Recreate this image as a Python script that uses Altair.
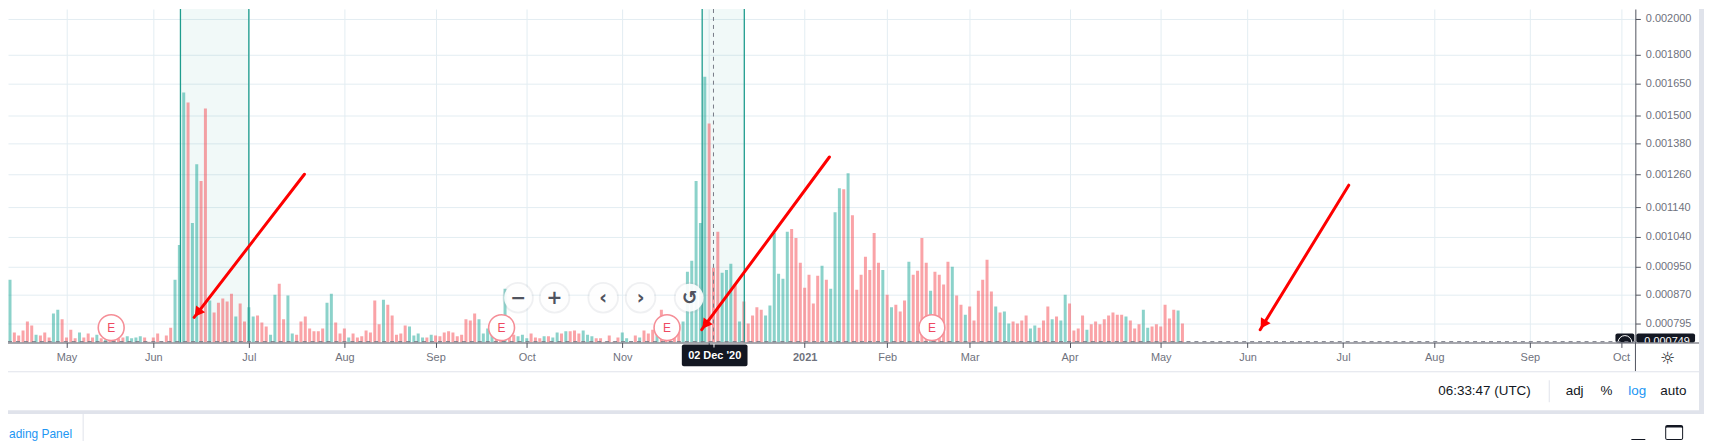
import altair as alt
import pandas as pd

# bar tops, in millionths of the quote (0.000795 -> 795)
tops_a = [759,798,913,773,766,778,800,790,768,766,773,761,821,831,806,761,780,759,773,761,771,761,768,
          759,756,759,756,759,761,764,759,761,764,761,751,761,771,751,766,785,913,1016,1608,1561,1087,1299,1235,1533,
          855,824,849,860,852,873,813,847,800,837,813,816,798,788,768,870,901,806,868,771,768,800,813,783,776,776,783,
          849,873,798,771,783,761,771,761,764,778,773,855,793,857,844,816,768,771,790,788,766,771,761,761]
tops_b = [768,766,764,773,776,773,764,768,806,803,821,806,771,783,778,768,773,887,766,768,764,768,759,771,761,759,
          764,764,761,773,771,776,776,778,771,778,768,764,759,759,751,766,751,761,773,759,751,766,761,778,771,780,768,
          831,768,768,768,793,800,936,968,1235,1087,1686,1466,947,1057,933,941,959,899,800,852,795,816,837,831,816,842,
          1053,930,916,1057,1067,1037,962,890,927,847,924,953,913,887,1123,1209,1205,1264,1113]
tops_c = [884,927,980,941,1053,962,941,870,837,844,826,855,965,927,939,1037,962,881,936,927,899,965,950,868,844,818,
          839,803,881,913,971,879,839,824,826,795,800,795,803,816,783,790,785,803,839,806,813,803,870,847,778,783,816,
          780,793,800,793,806,816,824,818,818,813,803,783,793,831,785,788,793,788,844,808,831,829,795]
# positions of the rising bars; every other bar is a falling one
up_bars = [1,2,8,12,13,18,22,24,29,30,31,32,40,41,42,44,45,48,54,57,58,62,63,66,67,75,76,80,88,94,95,96,97,
           99,110,111,112,113,116,119,120,121,125,127,128,130,134,135,136,143,144,147,151,157,158,159,160,161,162,
           166,167,168,170,176,177,178,179,180,181,189,191,192,193,195,203,205,209,214,219,222,229,231,232,237,238,
           242,244,245,250,259,263,264,271]

# the December label is hidden by the crosshair's date box in the reference
month_ticks = [15,35,57,79,100,121,143,163,185,204,223,246,267,287,309,330,352,373]
month_names = ["May","Jun","Jul","Aug","Sep","Oct","Nov","","2021","Feb","Mar","Apr","May","Jun","Jul","Aug","Sep","Oct"]
price_ticks = [795,870,950,1040,1140,1260,1380,1500,1650,1800,2000]

scale_values = [749,795,870,950,1040,1140,1260,1380,1500,1650,1800,2000,2056]
scale_tops = [343,324,295,267,237,207,174,143,115,83,54,18,8]

zones = [(41.25,57.0),(161.4,171.1)]
crosshair = 164
earnings_at = [25.3,115.2,153.3,214.3]
earnings_level = 785
# arrows: start index, start level, tip index, tip level, head index, head level, head angle
arrows = [(69.8,1260,44.4,811,45.2,823,217.6),
          (190.7,1327,161.3,780,162.1,792,216.5),
          (310.3,1220,289.9,780,290.6,793,211.5)]
buttons = [(119,"−"),(127.4,"+"),(138.6,"‹"),(147.2,"›"),(158.5,"↺")]
button_level = 862

tops = tops_a + tops_b + tops_c
FONT = "Liberation Sans"
GREY = "#6f727d"
GRID = "#e3edf2"
DARK = "#50535e"

P_W, P_H = 1635, 335
def px(x): return x - 8
def py(y): return y - 8

bars = pd.DataFrame({
    "i": list(range(len(tops))),
    "v": [t/1e6 for t in tops],
    "base": [749/1e6]*len(tops),
    "d": ["up" if i in up_bars else "down" for i in range(len(tops))],
})

xs = alt.Scale(domain=[1.536, 376.3], nice=False, zero=False, padding=0)
ys = alt.Scale(domain=[v/1e6 for v in scale_values], range=[py(t) for t in scale_tops], nice=False, zero=False)

label_map = "{" + ",".join(f"{t}:'{n}'" for t, n in zip(month_ticks, month_names)) + "}[datum.value]"
x_axis = alt.Axis(values=month_ticks, labelExpr=label_map, title=None, grid=True, gridColor=GRID, gridWidth=1,
                  ticks=True, tickSize=5, tickColor=DARK, domain=False, labelFont=FONT, labelFontSize=11, labelColor=GREY,
                  labelPadding=4, labelOverlap=False, labelFlush=False, labelBound=False,
                  labelFontWeight={"condition": {"test": "datum.value==185", "value": "bold"}, "value": "normal"})
y_axis = alt.Axis(values=[v/1e6 for v in price_ticks], format=".6f", orient="right", title=None, grid=True,
                  gridColor=GRID, gridWidth=1, ticks=True, tickSize=5, tickColor=DARK, domain=True, domainColor=DARK,
                  labelFont=FONT, labelFontSize=11, labelColor=GREY, labelPadding=5, labelOverlap=False, labelBound=False,
                  labelFlush=False)
X = alt.X("i:Q", scale=xs, axis=x_axis)
Y = alt.Y("v:Q", scale=ys, axis=y_axis)

layers = []
# zones
z = pd.DataFrame([{"i": a, "i2": b} for a, b in zones])
layers.append(alt.Chart(z).mark_rect(color="#26a69a", opacity=0.065, clip=True).encode(
    x=X, x2="i2:Q", y=alt.value(0), y2=alt.value(P_H)))
# bars
layers.append(alt.Chart(bars).mark_bar(width=3, opacity=0.5, clip=True).encode(
    x=X, y=Y, y2="base:Q",
    color=alt.Color("d:N", scale=alt.Scale(domain=["up","down"], range=["#17a595","#f54750"]), legend=None)))
# zone borders
edges = pd.DataFrame({"i": [e for p in zones for e in p]})
layers.append(alt.Chart(edges).mark_rule(color="#1f9c8e", strokeWidth=1.3, clip=True).encode(
    x=X, y=alt.value(0), y2=alt.value(P_H)))
# crosshair
layers.append(alt.Chart(pd.DataFrame({"i": [crosshair]})).mark_rule(color="#787b86", strokeDash=[4,4], strokeWidth=1).encode(
    x=X, y=alt.value(0), y2=alt.value(P_H)))
# earnings markers
e = pd.DataFrame({"i": earnings_at, "v": [earnings_level/1e6]*len(earnings_at)})
layers.append(alt.Chart(e).mark_point(shape="circle", filled=True, fill="white", stroke="#f58e97", strokeWidth=1.6,
                                      size=676, opacity=1, clip=True).encode(x=X, y=Y))
layers.append(alt.Chart(e.assign(t="E")).mark_text(font=FONT, fontSize=12, color="#ee4a62", clip=True).encode(x=X, y=Y, text="t:N"))
# buttons
b = pd.DataFrame({"i": [p for p, _ in buttons], "v": [button_level/1e6]*len(buttons), "t": [t for _, t in buttons]})
layers.append(alt.Chart(b).mark_point(shape="circle", filled=True, color="#9aa0b0", opacity=0.16, size=1000).encode(x=X, y=Y))
layers.append(alt.Chart(b).mark_point(shape="circle", filled=True, color="white", opacity=0.9, size=784).encode(x=X, y=Y))
layers.append(alt.Chart(b).mark_text(font="DejaVu Sans", fontSize=19, fontWeight="bold", color=DARK).encode(x=X, y=Y, text="t:N"))
# arrows
a_rows = []
for n, (x0, y0, x1, y1, hx, hy, ang) in enumerate(arrows):
    a_rows.append({"n": n, "k": 0, "i": x0, "v": y0/1e6})
    a_rows.append({"n": n, "k": 1, "i": x1, "v": y1/1e6})
layers.append(alt.Chart(pd.DataFrame(a_rows)).mark_line(color="#fe0000", strokeWidth=3, strokeCap="round").encode(
    x=X, y=Y, detail="n:N", order="k:Q"))
for x0, y0, x1, y1, hx, hy, ang in arrows:
    layers.append(alt.Chart(pd.DataFrame({"i": [hx], "v": [hy/1e6]})).mark_point(
        shape="triangle-up", filled=True, color="#fe0000", opacity=1, size=130, angle=ang).encode(x=X, y=Y))

# ---- terminal chrome, in pixels ----
def box(x0, y0, x1, y1, color, radius=0):
    return alt.Chart(pd.DataFrame({"a": [0]})).mark_rect(color=color, cornerRadius=radius).encode(
        x=alt.value(px(x0)), x2=alt.value(px(x1)), y=alt.value(py(y0)), y2=alt.value(py(y1)))
def label(x, y, t, size=13.5, color="#131722", align="left", weight="normal", font=FONT):
    return alt.Chart(pd.DataFrame({"t": [t]})).mark_text(font=font, fontSize=size, color=color, align=align,
                                                        fontWeight=weight, baseline="middle").encode(
        x=alt.value(px(x)), y=alt.value(py(y)), text="t:N")

# price box
layers += [box(1623, 334, 1642, 343, "#131722", 2), box(1644, 334, 1703, 343, "#131722", 2)]
layers.append(alt.Chart(pd.DataFrame({"i": [373.9], "v": [749/1e6]})).mark_point(
    shape="circle", color="white", strokeWidth=1, size=190, clip=True, opacity=1).encode(x=X, y=Y))
layers.append(label(1652, 343, "0.000749", 11, "white"))
layers.append(box(1644, 343.5, 1704, 351, "white"))
# date box
layers.append(box(685, 345, 751, 367, "#131722", 2))
layers.append(label(718, 357, "02 Dec '20", 11, "white", "center", "bold"))
layers.append(box(716.8, 343, 717.8, 348, "white"))
# axis frame
layers += [box(0, 343, 1707, 344, DARK), box(1642.6, 343, 1643.6, 372, DARK)]
# dashed price line along the baseline
layers.append(alt.Chart(pd.DataFrame({"i": [1.536], "i2": [376.3], "v": [751/1e6]})).mark_rule(
    color="#787b86", strokeDash=[4,4], strokeWidth=1).encode(x=X, x2="i2:Q", y=Y))
layers.append(label(1675.7, 359.5, "☼", 17, "#131722", "center", font="DejaVu Sans"))
layers += [box(8, 372, 1707, 373, "#e0e3eb"), box(8, 411, 1712, 415, "#e0e3eb"), box(1707, 8, 1712, 415, "#e0e3eb")]
layers += [box(83, 415, 84, 442, "#e0e3eb"), box(1556, 381, 1557, 403, "#e0e3eb")]
layers += [
    label(1445, 392, "06:33:47 (UTC)"),
    label(1573, 392, "adj"),
    label(1614, 392, "%", align="center"),
    label(1636, 392, "log", color="#2196f3"),
    label(1668, 392, "auto"),
    label(9, 435, "ading Panel", 12, color="#2196f3"),
    box(1639, 440, 1653, 441, "#131722"),
]
layers.append(box(1673, 426, 1691, 441, "#131722", 2))
layers.append(box(1674, 428.5, 1690, 440, "white", 1))

chart = alt.layer(*layers).properties(
    width=P_W, height=P_H,
    autosize=alt.AutoSizeParams(type="none"),
    padding={"left": 0, "top": 0, "right": 73, "bottom": 99},
    background="white",
).configure_view(stroke=None)

chart.save("out.html", embed_options={"renderer": "svg", "actions": False})
